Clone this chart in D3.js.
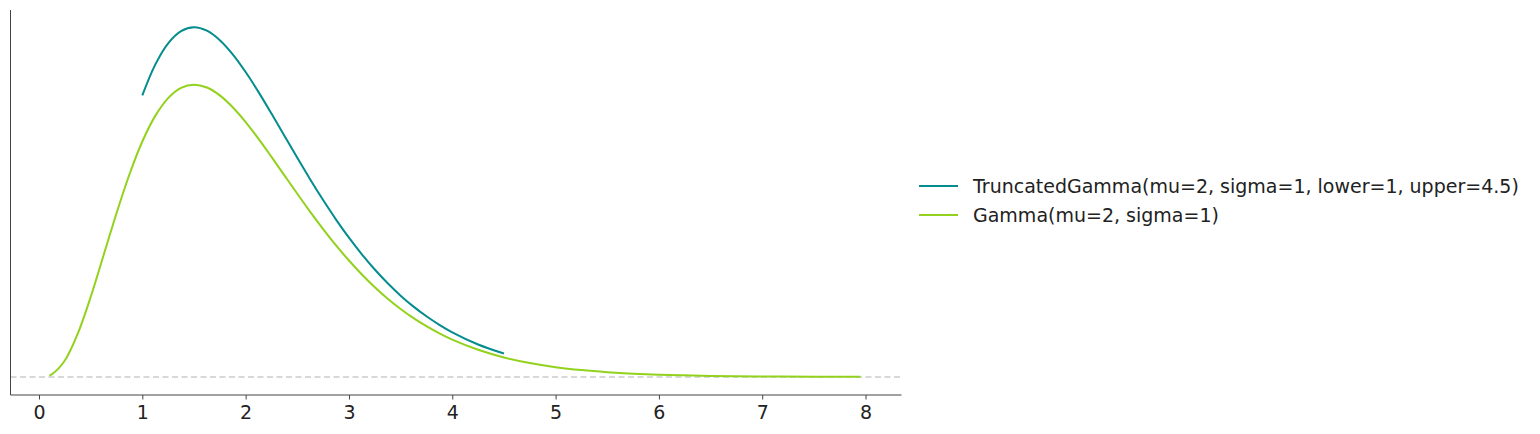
<!DOCTYPE html>
<html><head><meta charset="utf-8">
<script src="https://cdn.jsdelivr.net/npm/d3@7"></script>
<style>body{margin:0;background:#fff}svg{display:block}text{font-family:"DejaVu Sans",sans-serif}</style>
</head><body>
<script>
// Data
const gammaX = [0.1,0.125,0.25,0.375,0.5,0.625,0.75,0.875,1.0,1.125,1.25,1.375,1.5,1.625,1.75,1.875,2.0,2.125,2.25,2.375,2.5,2.625,2.75,2.875,3.0,3.125,3.25,3.375,3.5,3.625,3.75,3.875,4.0,4.25,4.5,4.75,5.0,5.25,5.5,5.75,6.0,6.5,7.0,7.5,7.95];
const gammaY = [0.0022,0.0041,0.0253,0.0664,0.1226,0.1865,0.2510,0.3104,0.3609,0.4002,0.4275,0.4432,0.4481,0.4437,0.4316,0.4134,0.3907,0.3650,0.3374,0.3091,0.2808,0.2531,0.2267,0.2017,0.1785,0.1571,0.1376,0.1200,0.1043,0.0902,0.0778,0.0668,0.0573,0.0417,0.0300,0.0214,0.0151,0.0106,0.0074,0.0051,0.0035,0.0017,0.0008,0.0003,0.0002];
const truncX = [1.0,1.125,1.25,1.375,1.5,1.625,1.75,1.875,2.0,2.125,2.25,2.375,2.5,2.625,2.75,2.875,3.0,3.125,3.25,3.375,3.5,3.625,3.75,3.875,4.0,4.25,4.5];
const truncY = [0.4317,0.4788,0.5115,0.5302,0.5361,0.5308,0.5163,0.4946,0.4674,0.4366,0.4037,0.3697,0.3359,0.3028,0.2712,0.2413,0.2135,0.1880,0.1647,0.1436,0.1247,0.1079,0.0931,0.0800,0.0685,0.0498,0.0359];
const xTicks = [0,1,2,3,4,5,6,7,8];
const seriesNames = ["TruncatedGamma(mu=2, sigma=1, lower=1, upper=4.5)","Gamma(mu=2, sigma=1)"];
const seriesColors = ["#048c8f","#92d21c"];

const W=1540,H=434;
const L=10.5,R=901.5,T=10,B=395;
const svg=d3.select("body").append("svg").attr("width",W).attr("height",H);
const x=d3.scaleLinear().domain([-0.276,8.348]).range([L,R]);
const y=d3.scaleLinear().domain([-0.0276,0.5625]).range([B,T]);

// baseline dashed
svg.append("line").attr("x1",L).attr("x2",R).attr("y1",y(0)).attr("y2",y(0))
  .attr("stroke","#cccccc").attr("stroke-width",1.6).attr("stroke-dasharray","6,3.5");

const line=d3.line().x(d=>x(d[0])).y(d=>y(d[1])).curve(d3.curveCatmullRom.alpha(0.5));
const series=[d3.zip(truncX,truncY), d3.zip(gammaX,gammaY)];
[1,0].forEach(i=>{
  svg.append("path").datum(series[i]).attr("d",line).attr("fill","none")
    .attr("stroke",seriesColors[i]).attr("stroke-width",2);
});

// axes
const xa=svg.append("g").attr("transform",`translate(0,${B})`)
  .call(d3.axisBottom(x).tickValues(xTicks).tickSize(4.5).tickPadding(6).tickFormat(d3.format("d")));
xa.select(".domain").remove();
xa.selectAll(".tick line").attr("stroke","#444").attr("stroke-width",1);
xa.selectAll(".tick text").attr("fill","#222").attr("font-size",19).attr("font-family","DejaVu Sans");
svg.append("line").attr("x1",L).attr("x2",R).attr("y1",B).attr("y2",B).attr("stroke","#444").attr("stroke-width",1);
svg.append("line").attr("x1",L).attr("x2",L).attr("y1",T).attr("y2",B).attr("stroke","#444").attr("stroke-width",1);

// legend
const lg=svg.append("g");
seriesNames.forEach((n,i)=>{
  const yy=186+i*29;
  lg.append("line").attr("x1",919).attr("x2",958).attr("y1",yy).attr("y2",yy)
    .attr("stroke",seriesColors[i]).attr("stroke-width",2);
  lg.append("text").attr("x",973).attr("y",yy).attr("dy","0.35em")
    .attr("font-size",19).attr("fill","#222").text(n);
});
</script>
</body></html>
